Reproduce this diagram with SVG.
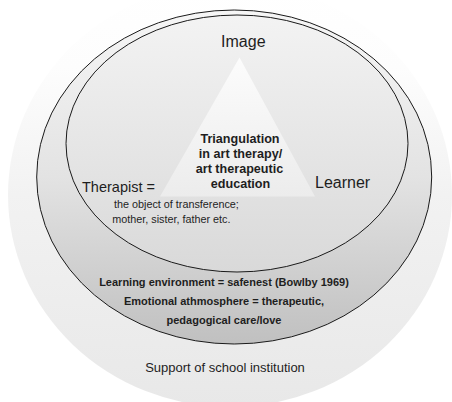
<svg xmlns="http://www.w3.org/2000/svg" width="452" height="402" viewBox="0 0 452 402">
  <defs>
    <linearGradient id="gOuter" x1="0" y1="0" x2="0" y2="1">
      <stop offset="0" stop-color="#ffffff"/>
      <stop offset="0.2" stop-color="#fdfdfd"/>
      <stop offset="0.5" stop-color="#f2f2f2"/>
      <stop offset="1" stop-color="#e8e8e8"/>
    </linearGradient>
    <linearGradient id="gMiddle" x1="0" y1="0" x2="0" y2="1">
      <stop offset="0" stop-color="#f6f6f6"/>
      <stop offset="0.5" stop-color="#e3e3e3"/>
      <stop offset="1" stop-color="#c0c0c0"/>
    </linearGradient>
    <linearGradient id="gInner" x1="0" y1="0" x2="0" y2="1">
      <stop offset="0" stop-color="#f3f3f3"/>
      <stop offset="1" stop-color="#d9d9d9"/>
    </linearGradient>
    <linearGradient id="gTri" x1="0" y1="0" x2="0" y2="1">
      <stop offset="0" stop-color="#fcfcfc"/>
      <stop offset="1" stop-color="#ececec"/>
    </linearGradient>
  </defs>
  <style>
    .ring { stroke: #1a1a1a; stroke-width: 1; }
    text { font-family: "Liberation Sans", Arial, sans-serif; fill: #1e1e1e; text-anchor: middle; }
    .big { font-size: 16px; }
    .mid { font-size: 14.5px; }
    .small { font-size: 10.8px; }
    .bold { font-weight: bold; font-size: 11px; }
    .tri { font-weight: bold; font-size: 12.6px; }
    .sup { font-size: 13px; }
  </style>
  <rect width="452" height="402" fill="#ffffff"/>
  <g id="school-support">
    <ellipse cx="230" cy="195" rx="222" ry="212" fill="url(#gOuter)"/>
    <text class="sup" x="225" y="372.3">Support of school institution</text>
  </g>
  <g id="learning-environment">
    <ellipse class="ring" cx="234.2" cy="177" rx="197.5" ry="167" fill="url(#gMiddle)"/>
    <text class="bold" x="224" y="285.5">Learning environment = safenest (Bowlby 1969)</text>
    <text class="bold" x="224" y="304.8">Emotional athmosphere = therapeutic,</text>
    <text class="bold" x="224" y="324.2">pedagogical care/love</text>
  </g>
  <g id="inner-circle">
    <ellipse class="ring" cx="237" cy="143.5" rx="171" ry="128.5" fill="url(#gInner)"/>
  </g>
  <g id="triangle">
    <polygon points="239.5,57.5 160,196.5 315,196.5" fill="url(#gTri)"/>
    <text class="tri" x="240" y="142.5">Triangulation</text>
    <text class="tri" x="240.5" y="157.8">in art therapy/</text>
    <text class="tri" x="239.5" y="173">art therapeutic</text>
    <text class="tri" x="240.5" y="188.3">education</text>
  </g>
  <g id="image">
    <text class="big" x="243.3" y="47">Image</text>
  </g>
  <g id="therapist">
    <text class="mid" x="82" y="191.5" style="text-anchor:start">Therapist =</text>
    <text class="small" x="176.4" y="208.3">the object of transference;</text>
    <text class="small" x="171.4" y="223.3">mother, sister, father etc.</text>
  </g>
  <g id="learner">
    <text class="big" x="315" y="188.3" style="text-anchor:start">Learner</text>
  </g>
  <g id="connectors"></g>
</svg>
